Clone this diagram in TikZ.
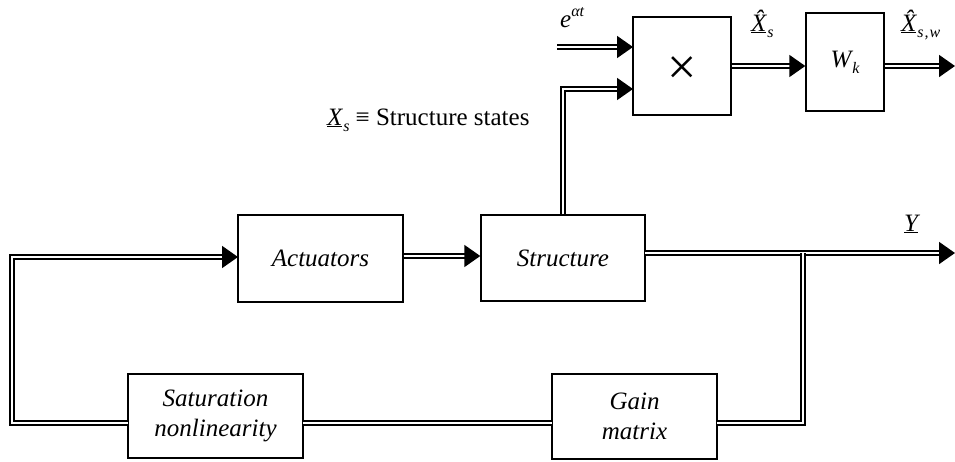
\documentclass[tikz,border=0pt]{standalone}
\usepackage{fontspec}
\setmainfont{Liberation Serif}
\usetikzlibrary{arrows.meta}
\newcommand{\lowsub}[1]{\kern1pt\raisebox{-6pt}{\fontsize{16}{16}\selectfont\itshape #1}}
\begin{document}
\begin{tikzpicture}[x=1pt,y=-1pt,
  every node/.style={font=\fontsize{25}{30}\selectfont},
  blk/.style={draw,line width=1.4pt,rectangle,inner sep=0pt,align=center},
  dl/.style={double,line width=1.8pt,double distance=2.6pt},
  dla/.style={dl,-{Triangle[length=16pt,width=22pt]}},
]
\useasboundingbox (0,0) rectangle (955,461);
% blocks
\node[blk,minimum width=98pt,minimum height=98pt] (mul) at (682,66) {};
\node[font=\fontsize{52}{52}\selectfont,inner sep=0pt] (mulsign) at ([yshift=-5pt]mul.center) {×};
\node[blk,minimum width=165pt,minimum height=87pt] (act) at (320.5,258.5) {\itshape Actuators};
\node[blk,minimum width=164pt,minimum height=86pt] (st) at (563,258) {\itshape Structure};
\node[blk,minimum width=78pt,minimum height=98pt] (wk) at (845,62) {\itshape W\lowsub{k}};
\node[blk,minimum width=175pt,minimum height=84pt] (sat) at (215.5,416) {\itshape Saturation\\\itshape nonlinearity};
\node[blk,minimum width=165pt,minimum height=85pt] (gain) at (634.5,416.5) {\itshape Gain\\\itshape matrix};
% coordinates
\coordinate (ein) at (557,47);
\coordinate (m1) at (633,47);
\coordinate (m2) at (633,89);
\coordinate (wout) at (955,66);
\coordinate (yout) at (955,253);
\coordinate (sto) at (645,253);
\coordinate (br) at (803,253);
\coordinate (ge) at (717,423);
\coordinate (gw) at (552,423);
\coordinate (se) at (303,423);
\coordinate (sw) at (128,423);
\coordinate (lc) at (12,257);
\coordinate (aw) at (238,257);
% labels
\node[anchor=base west,inner sep=0pt] (elab) at (560,27) {\itshape e\raisebox{11pt}{\fontsize{16}{16}\selectfont αt}};
\node[anchor=base west,inner sep=0pt] (xhs) at (751,31) {\itshape\underline{\^X}\lowsub{s}};
\node[anchor=base west,inner sep=0pt] (xhsw) at (901,31) {\itshape\underline{\^X}\lowsub{s\kern1pt,\kern1pt w}};
\node[anchor=base west,inner sep=0pt] (xs) at (327,125) {{\itshape\underline{X}\lowsub{s}}\kern6pt≡ Structure states};
\node[anchor=base west,inner sep=0pt] (ylab) at (904,231) {\itshape\underline{Y}};
% connectors
\draw[dla] (ein) -- (m1);
\draw[dla] (st.north) |- (m2);
\draw[dla] (mul.east) -- (wk.west |- mul.east);
\draw[dla] (wk.east |- wout) -- (wout);
\draw[dla] (act.east |- 0,256) -- (st.west |- 0,256);
\draw[dla] (sto) -- (yout);
\draw[dl] (br) |- (ge);
\draw[dl] (gw) -- (se);
\draw[dla] (sw) -| (lc) -- (aw);
\end{tikzpicture}
\end{document}
